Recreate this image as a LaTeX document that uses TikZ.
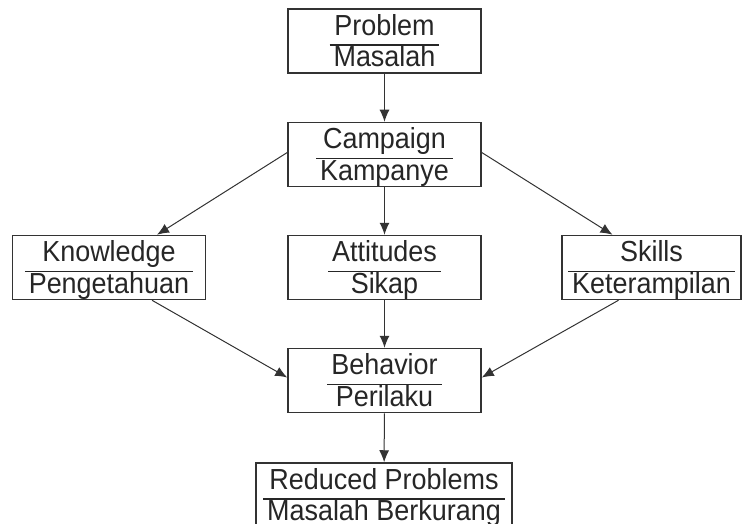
\documentclass[tikz,border=0pt]{standalone}
\usepackage{fontspec}
\setmainfont{Liberation Sans}[FakeStretch=0.93]
\usetikzlibrary{arrows.meta}
\tikzset{
  box/.style={draw=black!80,line width=0.75pt,inner xsep=0pt,inner ysep=-1.5pt,
    minimum width=96.5pt,minimum height=32pt,text=black!85,font=\fontsize{14.5}{15}\selectfont},
  flow/.style={draw=black!80,line width=0.5pt,-{Latex[length=6pt,width=5pt]}}
}
\newcommand{\twoline}[2]{\setlength{\tabcolsep}{2pt}\setlength{\arrayrulewidth}{0.6pt}%
  \begin{tabular}{c}\rule{0pt}{14.5pt}#1\\\hline #2\end{tabular}}
\begin{document}
\begin{tikzpicture}[x=0.5pt,y=-0.5pt]
\useasboundingbox (0,0) rectangle (744,524);
% boxes
\node[box] (prob) at (384.5,41) {\twoline{Problem}{Masalah}};
\node[box] (camp) at (384.5,154.5) {\twoline{Campaign}{Kampanye}};
\node[box] (know) at (109,267.5) {\twoline{Knowledge}{Pengetahuan}};
\node[box] (att) at (384.5,267.5) {\twoline{Attitudes}{Sikap}};
\node[box,minimum width=89.5pt] (skl) at (651.5,267.5) {\twoline{Skills}{Keterampilan}};
\node[box] (beh) at (384.5,380.5) {\twoline{Behavior}{Perilaku}};
\node[box,minimum width=128pt] (red) at (384,495) {\twoline{Reduced Problems}{Masalah Berkurang}};

% arrows
\draw[flow] (prob) -- (camp);
\draw[flow] (camp) -- (att);
\draw[flow] (att) -- (beh);
\draw[flow] (beh) -- (red);
\draw[flow] ([yshift=1pt]camp.west) -- ([xshift=24pt]know.north);
\draw[flow] ([yshift=1pt]camp.east) -- ([xshift=-19.5pt]skl.north);
\draw[flow] ([xshift=21.5pt]know.south) -- ([yshift=1.5pt]beh.west);
\draw[flow] ([xshift=-16.5pt]skl.south) -- ([yshift=1.5pt]beh.east);
\end{tikzpicture}
\end{document}
